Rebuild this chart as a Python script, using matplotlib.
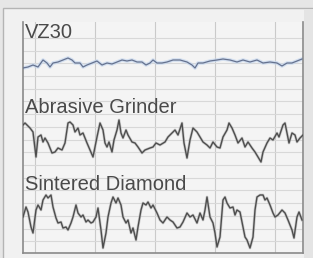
import matplotlib
matplotlib.use("Agg")
import matplotlib.pyplot as plt
from matplotlib.patches import Rectangle
import numpy as np

# surface profile traces (position along trace, height up = positive)
vz30_x = [23, 28, 33, 38, 43, 47, 50, 53, 58, 63,
          68, 72, 75, 80, 83, 87, 92, 97, 102, 107,
          112, 117, 122, 127, 132, 137, 142, 146, 150, 153,
          157, 162, 167, 173, 180, 187, 192, 195, 198, 203,
          210, 217, 223, 230, 237, 243, 250, 257, 263, 270,
          277, 282, 287, 292, 297, 302]
vz30_h = [-5, -4, -2, -4, 3, 0, -4, 0, 1, 3,
          5, 3, 0, 0, -4, -2, 0, 2, -2, 0,
          -1, 1, 3, 2, 3, 1, 1, -2, 0, 3,
          0, 0, 1, 3, 3, 1, -2, -5, 0, 0,
          2, 3, 4, 3, 1, 3, 1, 3, 0, 1,
          0, -3, 0, 0, 2, 4]

grinder_x = [23, 25, 30, 33, 36, 38, 41, 43, 45, 48,
             52, 55, 58, 62, 65, 68, 70, 73, 75, 78,
             80, 83, 87, 90, 93, 95, 97, 100, 103, 105,
             107, 109, 112, 114, 117, 119, 121, 123, 126, 128,
             132, 135, 138, 142, 145, 150, 153, 156, 160, 165,
             168, 172, 175, 178, 182, 184, 187, 190, 193, 197,
             200, 203, 207, 210, 213, 217, 220, 223, 227, 229,
             232, 235, 238, 242, 245, 248, 252, 255, 258, 261,
             263, 267, 270, 273, 277, 279, 283, 285, 287, 289,
             292, 295, 297, 300, 303]
grinder_h = [15, 17, 12, 8, -17, 3, 5, -2, 2, -3,
             -13, -12, -8, -10, -3, 17, 18, 15, 8, 12,
             5, 7, -3, -10, -17, -7, 3, 17, 10, -3,
             -7, -2, -12, 0, 10, 20, 7, 2, 10, 5,
             -2, -3, -7, -13, -10, -8, -7, -3, -5, -2,
             3, 7, 10, 5, 17, -3, -18, 0, 12, 8,
             3, -2, -5, -8, -2, -7, -8, 3, 10, 17,
             12, 5, -3, 2, -7, -2, -8, -12, -17, -22,
             -12, -3, 2, 0, 7, 3, 15, 17, 7, -3,
             7, 5, -2, 2, 5]

diamond_x = [23, 26, 28, 31, 33, 36, 38, 41, 43, 46,
             48, 51, 53, 56, 58, 61, 63, 66, 68, 71,
             73, 76, 78, 81, 83, 86, 88, 91, 93, 96,
             98, 101, 103, 106, 108, 111, 113, 116, 118, 121,
             123, 126, 128, 131, 133, 136, 138, 141, 143, 146,
             148, 151, 153, 157, 160, 163, 167, 170, 173, 177,
             180, 183, 187, 190, 193, 197, 200, 203, 205, 207,
             210, 213, 215, 217, 220, 223, 225, 227, 230, 233,
             235, 237, 240, 243, 245, 247, 250, 253, 255, 257,
             260, 263, 265, 267, 270, 273, 275, 278, 282, 285,
             288, 292, 294, 297, 299, 302]
diamond_h = [3, 13, 8, -7, -13, 10, 15, 10, 20, 25,
             22, 25, 13, 2, -3, -2, -8, -7, -10, -3,
             3, 15, 7, 3, 5, -2, 0, -3, -2, 3,
             12, -10, -28, -13, 3, 17, 23, 17, 22, 15,
             3, -3, 0, -13, -8, -20, -7, 10, 17, 15,
             18, 12, 15, 7, 0, -3, 3, 0, -2, -8,
             -7, -2, 7, 3, 5, -3, 7, 0, 10, 23,
             3, -3, -13, -27, -17, 20, 23, 17, 12, 13,
             5, 10, 8, -7, -17, -20, -28, -17, 10, 23,
             25, 25, 20, 22, 15, 7, 3, 5, 10, 7,
             0, -10, -18, 3, 8, 0]

labels = ["VZ30", "Abrasive Grinder", "Sintered Diamond"]

W, H = 313, 258
fig = plt.figure(figsize=(W / 100, H / 100), dpi=100)
fig.patch.set_facecolor("#e6e6e6")

# outer panel (behind the axes)
panel = Rectangle((3 / W, -0.01), 1, (H - 8) / H + 0.01, transform=fig.transFigure,
                  facecolor="#f1f1f1", edgecolor="#b4b4b4", linewidth=1.0, zorder=-2)
fig.patches.append(panel)
# gray strip right of the plot
fig.patches.append(Rectangle((304 / W, 0), 10 / W, (H - 9) / H, transform=fig.transFigure,
                             facecolor="#e4e4e4", edgecolor="none", zorder=-1))

ax = fig.add_axes([23 / W, 5 / H, 280 / W, 231 / H])
ax.set_facecolor("#f4f4f4")
ax.set_xlim(23, 303)
ax.set_ylim(231, 0)

# grid
for gx in [35, 95, 155, 215, 275]:
    ax.axvline(gx, color="#cacaca", lw=0.8, zorder=1)
for gy in np.arange(16, 231, 12.7):
    ax.axhline(gy, color="#d8d8d8", lw=0.8, zorder=1)

# traces
ax.plot(vz30_x, 41 - np.array(vz30_h), color="#c4d6ee", lw=2.6, alpha=0.7, zorder=2)
ax.plot(vz30_x, 41 - np.array(vz30_h), color="#65728f", lw=0.9, zorder=3)
ax.plot(grinder_x, 118 - np.array(grinder_h), color="#b0b0b0", lw=2.0, alpha=0.6, zorder=2)
ax.plot(grinder_x, 118 - np.array(grinder_h), color="#4e4e4e", lw=1.0, zorder=3)
ax.plot(diamond_x, 198 - np.array(diamond_h), color="#b0b0b0", lw=2.0, alpha=0.6, zorder=2)
ax.plot(diamond_x, 198 - np.array(diamond_h), color="#4e4e4e", lw=1.0, zorder=3)

# labels
for lab, ty in zip(labels, [16, 91, 168]):
    ax.text(25, ty, lab, fontsize=14.5, family="Liberation Sans", color="#4a4a4a",
            va="baseline", ha="left", zorder=4)

ax.set_xticks([])
ax.set_yticks([])
ax.spines["top"].set_visible(False)
for s in ["left", "right", "bottom"]:
    ax.spines[s].set_color("#8a8a8a")
    ax.spines[s].set_linewidth(1.2)

fig.savefig("out.png", dpi=100)
